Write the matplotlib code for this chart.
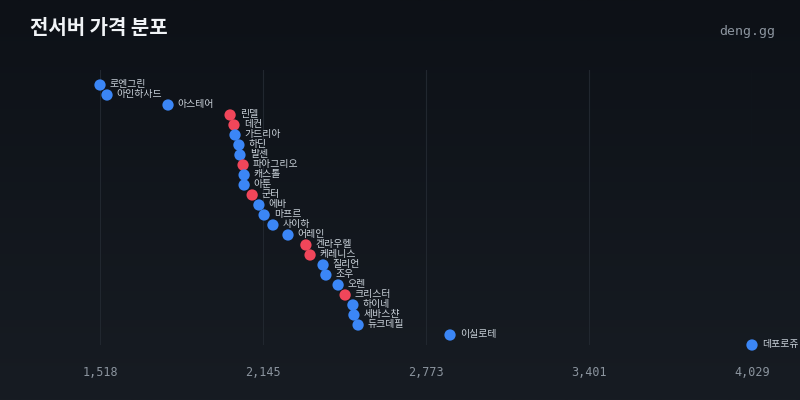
import numpy as np
import matplotlib
matplotlib.use("Agg")
import matplotlib.pyplot as plt

plt.rcParams['font.family'] = ['Noto Sans CJK KR', 'DejaVu Sans']

servers = ["로엔그린", "아인하사드", "아스테어", "린델", "데컨", "가드리아", "하딘", "발센",
           "파아그리오", "캐스톨", "아툰", "군터", "에바", "마프르", "사이하", "어레인",
           "켄라우헬", "케레니스", "질리언", "조우", "오렌", "크리스터", "하이네", "세바스챤",
           "듀크데필", "이실로테", "데포로쥬"]
prices = [1518, 1545, 1780, 2019, 2034, 2038, 2053, 2057,
          2069, 2073, 2073, 2104, 2130, 2150, 2184, 2242,
          2311, 2327, 2377, 2388, 2435, 2462, 2492, 2496,
          2512, 2866, 4029]
# 빨간 점 = 강조 서버
highlight = ["린델", "데컨", "파아그리오", "군터", "켄라우헬", "케레니스", "크리스터"]

BLUE = "#3b86f6"
RED = "#f0465a"
BG_TOP = "#0d1117"
BG_BOT = "#171c23"

fig = plt.figure(figsize=(8, 4), dpi=100)

# 배경 그라데이션
bg = fig.add_axes([0, 0, 1, 1], zorder=-10)
top = np.array(matplotlib.colors.to_rgb(BG_TOP))
bot = np.array(matplotlib.colors.to_rgb(BG_BOT))
t = np.linspace(0, 1, 256)[:, None]
grad = (top * (1 - t) + bot * t)[:, None, :]
bg.imshow(grad, aspect="auto", extent=[0, 1, 0, 1])
bg.axis("off")

ax = fig.add_axes([100 / 800, 1 - 345 / 400, 652 / 800, 275 / 400])
ax.patch.set_alpha(0)

n = len(servers)
ypos = np.arange(n)
colors = [RED if s in highlight else BLUE for s in servers]
ax.scatter(prices, ypos, s=66, c=colors, edgecolors="none", zorder=3, clip_on=False)
for p, y, s in zip(prices, ypos, servers):
    ax.annotate(s, (p, y), xytext=(7, 0.5), textcoords="offset points",
                va="center", ha="left", fontsize=7.1, color="#c9d1d9", zorder=4,
                annotation_clip=False)

ax.set_xlim(min(prices), max(prices))
ax.set_ylim(n - 1, -1.5)
ticks = np.linspace(min(prices), max(prices), 5)
ax.set_xticks(ticks)
ax.set_xticklabels([f"{int(v):,}" for v in ticks], family="DejaVu Sans Mono",
                   fontsize=8.5, color="#8b949e")
ax.tick_params(axis="x", length=0, pad=15)
ax.set_yticks([])
ax.grid(axis="x", color="#21272f", linewidth=0.8)
for sp in ax.spines.values():
    sp.set_visible(False)

fig.text(30 / 800, 1 - 28 / 400, "전서버 가격 분포", fontsize=14.4, fontweight="bold",
         color="#f0f3f6", va="center", ha="left")
fig.text(775 / 800, 1 - 31 / 400, "deng.gg", family="DejaVu Sans Mono", fontsize=9.5,
         color="#8b949e", va="center", ha="right")

fig.savefig("out.png", dpi=100)
